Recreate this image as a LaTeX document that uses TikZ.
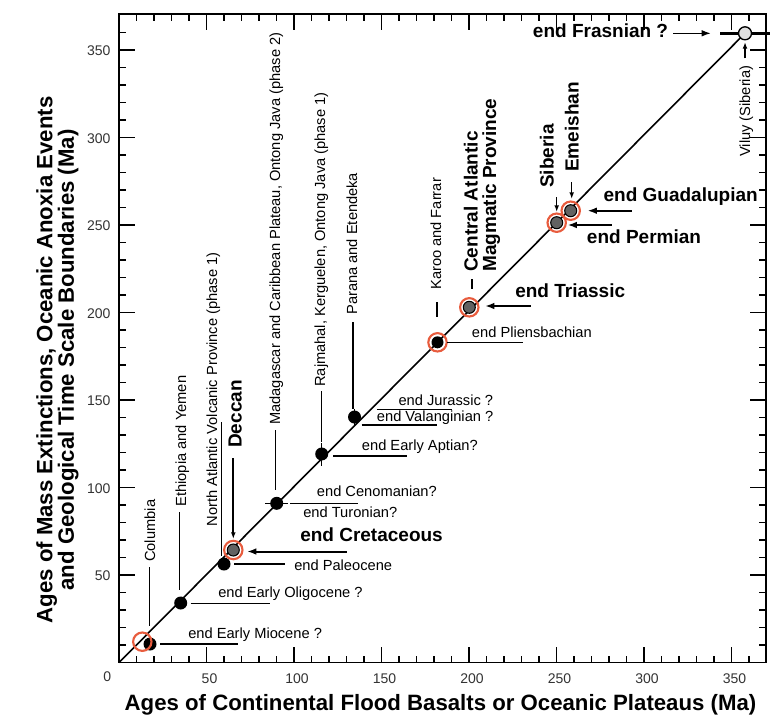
\documentclass[tikz,border=0pt]{standalone}
\usepackage{fontspec}
\setmainfont{Liberation Sans}
\usetikzlibrary{arrows.meta}
\definecolor{ringred}{RGB}{232,92,62}
\definecolor{dotgray}{RGB}{98,98,98}
\begin{document}
\begin{tikzpicture}[x=0.75pt,y=-0.75pt,
  small/.style={font=\fontsize{11}{12}\selectfont, inner sep=0pt},
  bigb/.style={font=\fontsize{14.25}{13.8}\selectfont\bfseries, inner sep=0pt},
  axlab/.style={font=\fontsize{16.65}{16.2}\selectfont\bfseries, inner sep=0pt, align=center},
  ticklab/.style={font=\fontsize{10.5}{12}\selectfont, text=black!80, inner sep=0pt},
  vlab/.style={rotate=90, anchor=mid west},
  hlab/.style={anchor=mid west},
  conn/.style={line width=1pt},
  tick/.style={line width=0.9pt},
  arr/.style={line width=1.5pt,-{Latex[length=7pt,width=5pt]}},
  sarr/.style={line width=1pt,-{Latex[length=5pt,width=3.6pt]}},
  errbar/.style={line width=1pt},
  blackdot/.style={circle, fill=black, minimum size=9.75pt, inner sep=0pt},
  graydot/.style={circle, fill=dotgray, draw=black, line width=0.8pt, minimum size=9pt, inner sep=0pt},
  ring/.style={circle, draw=ringred, line width=1.6pt, minimum size=13.8pt, inner sep=0pt},
  lightdot/.style={circle, fill=black!12, draw=black, line width=1pt, minimum size=9.75pt, inner sep=0pt}
]
\useasboundingbox (0,0) rectangle (770,718);

% ---------- frame and ticks ----------
\coordinate (O) at (119,662.5);
\coordinate (TR) at (766,14);
\draw[line width=1.1pt] (O) rectangle (TR);
\foreach \i in {1,...,36}{
  \pgfmathsetmacro\xx{119+17.5*\i}
  \pgfmathsetmacro\yy{662.5-17.5*\i}
  \pgfmathsetmacro\len{mod(\i,5)==0 ? 16 : 7}
  \draw[tick] (\xx,662.5) -- ++(0,-\len);
  \draw[tick] (\xx,14) -- ++(0,\len);
  \draw[tick] (119,\yy) -- ++(\len,0);
  \draw[tick] (766,\yy) -- ++(-\len,0);
}
\foreach \v in {50,100,...,350}{
  \pgfmathsetmacro\xx{119+1.75*\v+3}
  \pgfmathsetmacro\yy{662.5-1.75*\v+1}
  \node[ticklab] (xl\v) at (\xx,679) {\v};
  \node[ticklab, anchor=east] (yl\v) at (110.7,\yy) {\v};
}
\node[ticklab] (zero) at (107.3,676.7) {0};

% ---------- axis titles ----------
\node[axlab] (xtitle) at (440.5,705) {Ages of Continental Flood Basalts or Oceanic Plateaus (Ma)};
\node[axlab, rotate=90] (ytitle) at (57.5,360) {Ages of Mass Extinctions, Oceanic Anoxia Events\\and Geological Time Scale Boundaries (Ma)};

% ---------- diagonal ----------
\coordinate (vilc) at (745,33.3);
\draw[line width=1.2pt] (O) -- (vilc);

% ---------- error bars ----------
\coordinate (cenL) at (265,503.3); \coordinate (cenR) at (288,503.3);
\draw[errbar] (cenL) -- (cenR);
\coordinate (aptT) at (321.7,443); \coordinate (aptB) at (321.7,466);
\draw[errbar] (aptT) -- (aptB);
\coordinate (valT) at (354.5,408.5); \coordinate (valB) at (354.5,426);
\draw[errbar] (valT) -- (valB);
\coordinate (vilL) at (720,33.3); \coordinate (vilR) at (770,33.3);
\draw[line width=2pt] (vilL) -- (vilR);

% ---------- points ----------
\node[blackdot] (colD) at (150,644) {};
\node[blackdot] (eth) at (180.7,603) {};
\node[blackdot] (pal) at (224,564) {};
\node[graydot] (decD) at (233.3,550) {};
\node[blackdot] (cen) at (276.7,503.3) {};
\node[blackdot] (apt) at (321.7,454) {};
\node[blackdot] (val) at (354.5,417) {};
\node[blackdot, minimum size=9pt] (pliD) at (437.5,342.3) {};
\node[graydot] (campD) at (469.3,307.3) {};
\node[graydot] (sibD) at (556.7,222.7) {};
\node[graydot] (emeD) at (570.7,210.7) {};
\node[lightdot] (vil) at (vilc) {};
% rings
\node[ring] (colR) at (142.3,641.7) {};
\node[ring] (decR) at (decD) {};
\node[ring] (pliR) at (pliD) {};
\node[ring] (campR) at (campD) {};
\node[ring] (sibR) at (sibD) {};
\node[ring] (emeR) at (emeD) {};

% ---------- vertical labels and their connectors ----------
\node[small, vlab] (tcol) at (151.5,562) {Columbia};
\coordinate (c1a) at (149.5,567); \coordinate (c1b) at (149.5,626);
\draw[conn] (c1a) -- (c1b);

\node[small, vlab] (teth) at (182.5,506.7) {Ethiopia and Yemen};
\coordinate (c2a) at (179.5,512); \coordinate (c2b) at (179.5,590);
\draw[conn] (c2a) -- (c2b);

\node[small, vlab] (tnav) at (213.5,526.7) {North Atlantic Volcanic Province (phase 1)};
\coordinate (c3a) at (221.7,422); \coordinate (c3b) at (221.7,556);
\draw[conn] (c3a) -- (c3b);

\node[bigb, vlab] (tdec) at (238,448) {Deccan};
\coordinate (c4a) at (233.3,458); \coordinate (c4b) at (233.3,539);
\draw[sarr, line width=1.3pt] (c4a) -- (c4b);

\node[small, vlab] (tmad) at (276.5,425) {Madagascar and Caribbean Plateau, Ontong Java (phase 2)};
\coordinate (c5a) at (275.5,430); \coordinate (c5b) at (275.5,490);
\draw[conn] (c5a) -- (c5b);

\node[small, vlab] (traj) at (321.5,387) {Rajmahal, Kerguelen, Ontong Java (phase 1)};
\coordinate (c6a) at (321.7,391); \coordinate (c6b) at (321.7,442);
\draw[conn] (c6a) -- (c6b);

\node[small, vlab] (tpar) at (353.5,315) {Parana and Etendeka};
\coordinate (c7a) at (353,322); \coordinate (c7b) at (353,409);
\draw[conn] (c7a) -- (c7b);

\node[small, vlab] (tkar) at (437.5,290) {Karoo and Farrar};
\coordinate (c8a) at (437,302); \coordinate (c8b) at (437,317);
\draw[conn] (c8a) -- (c8b);

\node[bigb, rotate=90, anchor=west, align=left] (tcamp) at (482,272) {Central Atlantic\\Magmatic Province};
\coordinate (c9a) at (472,279); \coordinate (c9b) at (472,289);
\draw[conn] (c9a) -- (c9b);

\node[bigb, vlab] (tsib) at (550,188) {Siberia};
\coordinate (c10a) at (556.7,197); \coordinate (c10b) at (556.7,212);
\draw[sarr] (c10a) -- (c10b);

\node[bigb, vlab] (teme) at (575,172) {Emeishan};
\coordinate (c11a) at (571.7,182); \coordinate (c11b) at (571.7,199);
\draw[sarr] (c11a) -- (c11b);

\node[small, vlab] (tvil) at (746.5,157) {Viluy (Siberia)};
\coordinate (c12a) at (745,58.3); \coordinate (c12b) at (745,42);
\draw[sarr] (c12a) -- (c12b);

% ---------- horizontal labels and their connectors ----------
\node[small, hlab] (tmio) at (188,635) {end Early Miocene ?};
\coordinate (h1a) at (160,644); \coordinate (h1b) at (238,644);
\draw[conn] (h1a) -- (h1b);

\node[small, hlab] (toli) at (218,594) {end Early Oligocene ?};
\coordinate (h2a) at (190.7,603.3); \coordinate (h2b) at (270,603.3);
\draw[conn] (h2a) -- (h2b);

\node[small, hlab] (tpal) at (294,566.5) {end Paleocene};
\coordinate (h3a) at (234,564); \coordinate (h3b) at (285,564);
\draw[conn] (h3a) -- (h3b);

\node[bigb, hlab] (tcre) at (300,538) {end Cretaceous};
\coordinate (h4a) at (346.7,551.5); \coordinate (h4b) at (247,551.5);
\draw[arr] (h4a) -- (h4b);

\node[small, hlab] (tcen) at (316.7,493) {end Cenomanian?};
\node[small, hlab] (ttur) at (303,514) {end Turonian?};
\coordinate (h5a) at (290,503.3); \coordinate (h5b) at (358.3,503.3);
\draw[conn] (h5a) -- (h5b);

\node[small, hlab] (tapt) at (361.7,447) {end Early Aptian?};
\coordinate (h6a) at (333.3,456); \coordinate (h6b) at (406.7,456);
\draw[conn] (h6a) -- (h6b);

\node[small, hlab] (tval) at (376.7,418) {end Valanginian ?};
\coordinate (h7a) at (361.7,425); \coordinate (h7b) at (436.7,425);
\draw[conn] (h7a) -- (h7b);

\node[small, hlab] (tjur) at (398.3,402) {end Jurassic ?};
\coordinate (h8a) at (376.7,409.3); \coordinate (h8b) at (451.7,409.3);
\draw[conn] (h8a) -- (h8b);

\node[small, hlab] (tpli) at (471.7,334) {end Pliensbachian};
\coordinate (h9a) at (446.7,342.3); \coordinate (h9b) at (523.3,342.3);
\draw[conn] (h9a) -- (h9b);

\node[bigb, hlab] (ttri) at (515,293.5) {end Triassic};
\coordinate (h10a) at (530.7,306); \coordinate (h10b) at (485,306);
\draw[arr] (h10a) -- (h10b);

\node[bigb, hlab] (tper) at (586.7,240) {end Permian};
\coordinate (h11a) at (611.7,225); \coordinate (h11b) at (567.5,225);
\draw[arr] (h11a) -- (h11b);

\node[bigb, hlab] (tgua) at (603.3,198) {end Guadalupian};
\coordinate (h12a) at (631.7,210.7); \coordinate (h12b) at (587.5,210.7);
\draw[arr] (h12a) -- (h12b);

\node[bigb, hlab] (tfra) at (532.7,34) {end Frasnian ?};
\coordinate (h13a) at (673.3,33.3); \coordinate (h13b) at (711,33.3);
\draw[arr, line width=1.2pt] (h13a) -- (h13b);
\end{tikzpicture}
\end{document}
